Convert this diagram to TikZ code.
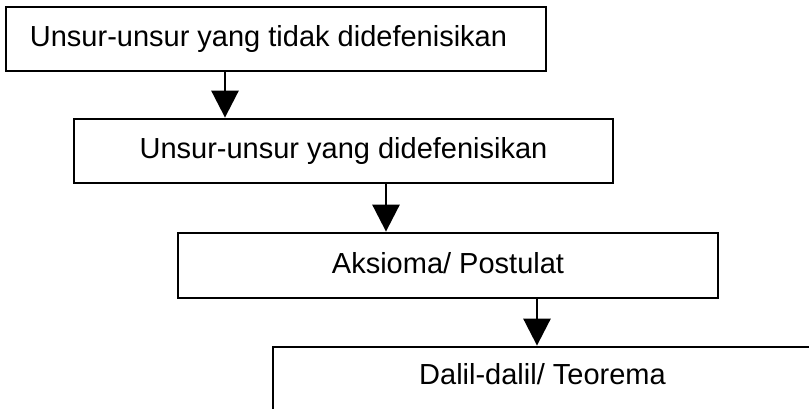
\documentclass[tikz,border=0pt]{standalone}
\usepackage{fontspec}
\setmainfont{Liberation Sans}
\usetikzlibrary{arrows.meta}
\begin{document}
\begin{tikzpicture}[x=1pt,y=-1pt,
  box/.style={draw, line width=2.8pt, rectangle, inner sep=0pt,
    font=\fontsize{29}{34}\selectfont, text height=21pt, text depth=6pt},
  flow/.style={line width=2.8pt, -{Triangle[width=27pt,length=27pt]}}]
\useasboundingbox (0,0) rectangle (809,409);
\clip (0,0) rectangle (809,409);
\node[box, minimum width=540pt, minimum height=64pt] (b1) at (276,39)
  {\hspace*{-15pt}Unsur-unsur yang tidak didefenisikan};
\node[box, minimum width=539pt, minimum height=64pt] (b2) at (343.5,151)
  {Unsur-unsur yang didefenisikan};
\node[box, minimum width=540pt, minimum height=65pt] (b3) at (448,265.5)
  {Aksioma/ Postulat};
\node[box, minimum width=539pt, minimum height=68pt, text depth=14pt] (b4) at (542.5,381)
  {Dalil-dalil/ Teorema};
\draw[flow] ([xshift=-51pt]b1.south) -- ([xshift=-118.5pt]b2.north);
\draw[flow] ([xshift=42.5pt]b2.south) -- ([xshift=-62pt]b3.north);
\draw[flow] ([xshift=89pt]b3.south) -- ([xshift=-5.5pt]b4.north);
\end{tikzpicture}
\end{document}
